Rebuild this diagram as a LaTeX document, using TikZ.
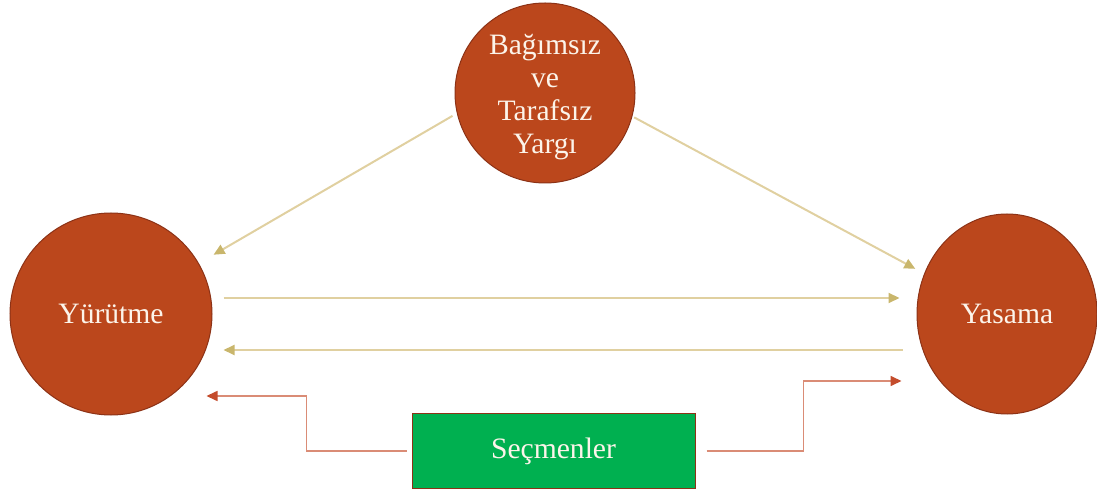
\documentclass[tikz,border=0pt]{standalone}
\usepackage{fontspec}
\setmainfont{Liberation Serif}
\usetikzlibrary{arrows.meta,calc,shapes.geometric}
\definecolor{rust}{RGB}{187,71,28}
\definecolor{rustedge}{RGB}{140,50,22}
\definecolor{tanline}{RGB}{224,208,160}
\definecolor{tantip}{RGB}{201,182,108}
\definecolor{redline}{RGB}{218,140,118}
\definecolor{redtip}{RGB}{196,76,44}
\definecolor{voter}{RGB}{0,176,80}
\definecolor{cream}{RGB}{252,244,234}
\begin{document}
\begin{tikzpicture}[x=0.5pt,y=-0.5pt,
    every node/.style={text=cream,font=\fontsize{14.8pt}{16.5pt}\selectfont,align=center,inner sep=0pt},
    organ/.style={circle,fill=rust,draw=rustedge,line width=0.5pt},
    tanarrow/.style={draw=tanline,line width=1pt,-{Triangle[length=5.5pt,width=5pt,color=tantip]}},
    redarrow/.style={draw=redline,line width=0.8pt,-{Triangle[length=5.5pt,width=5pt,color=redtip]}}]
        \useasboundingbox (0,0) rectangle (1097,496);
        \node [organ,minimum size=90pt] (yargi) at (545,93) {};
        \node (yargitext) at ($(yargi)+(0,4)$) {Bağımsız\\ve\\Tarafsız\\Yargı};
        \node [organ,minimum size=101pt] (yurutme) at (111,314) {Yürütme};
        \node [organ,ellipse,minimum width=90pt,minimum height=100pt] (yasama) at (1007,314) {Yasama};
        \node [rectangle,fill=voter,draw=rustedge,line width=0.5pt,minimum width=141.5pt,minimum height=37pt] (secmen) at (553.5,451) {Seçmenler};
        \coordinate (yL) at ($(yurutme.east)+(-6,82)$);
        \coordinate (yR) at ($(yasama.west)+(-15,67)$);
        \draw [tanarrow,shorten <=5pt/2,shorten >=17pt/2] (yargi.193) -- (yurutme.30);
        \draw [tanarrow,shorten <=1pt,shorten >=5pt] (yargi.-15) -- (yasama.154);
        \draw [tanarrow] ($(yurutme.east)+(11,-16)$) -- ($(yasama.west)+(-17,-16)$);
        \draw [tanarrow] ($(yasama.west)+(-14,36)$) -- ($(yurutme.east)+(11,36)$);
        \draw [redarrow] ($(secmen.west)+(-5,0)$) -- ++(-100,0) |- (yL);
        \draw [redarrow] ($(secmen.east)+(11,0)$) -- ++(97,0) |- (yR);
\end{tikzpicture}
\end{document}
